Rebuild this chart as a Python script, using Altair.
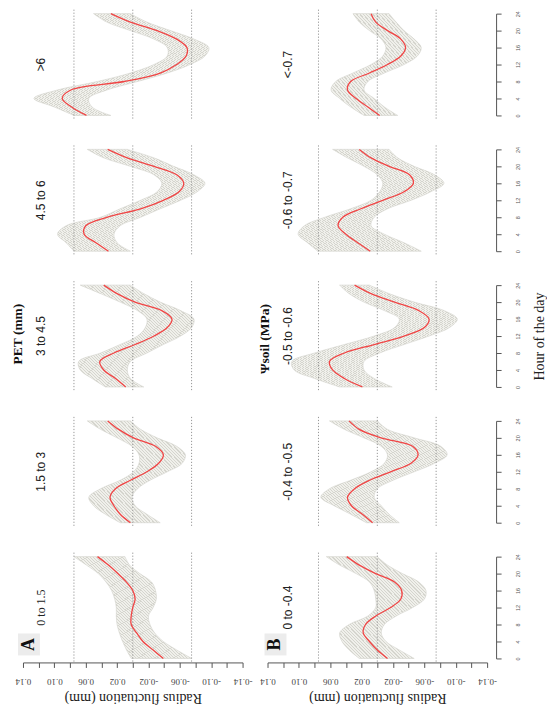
import altair as alt
import pandas as pd

# ---------------- data ----------------
hours = [0, 2, 4, 6, 8, 10, 12, 14, 16, 18, 20, 22, 24]

pet_classes = ["0 to 1.5", "1.5 to 3", "3 to 4.5", "4.5 to 6", ">6"]
psi_classes = ["0 to -0.4", "-0.4 to -0.5", "-0.5 to -0.6", "-0.6 to -0.7", "<-0.7"]

# A: PET classes
a1_mean = [-0.039, -0.026, -0.013, -0.005, 0.002, 0.002, 0.000, -0.003, 0.000, 0.008, 0.019, 0.031, 0.045]
a1_upper = [0.002, 0.008, 0.013, 0.017, 0.020, 0.021, 0.021, 0.023, 0.027, 0.034, 0.044, 0.059, 0.075]
a1_lower = [-0.075, -0.056, -0.039, -0.028, -0.022, -0.020, -0.026, -0.030, -0.029, -0.024, -0.009, 0.004, 0.010]

a2_mean = [0.003, 0.016, 0.024, 0.029, 0.022, 0.003, -0.018, -0.033, -0.039, -0.029, -0.001, 0.018, 0.032]
a2_upper = [0.016, 0.035, 0.050, 0.056, 0.041, 0.016, -0.001, -0.008, -0.008, 0.001, 0.020, 0.041, 0.058]
a2_lower = [-0.035, -0.018, -0.003, 0.001, -0.006, -0.022, -0.044, -0.063, -0.067, -0.056, -0.031, -0.010, 0.003]

a3_mean = [0.009, 0.022, 0.037, 0.042, 0.024, -0.003, -0.027, -0.044, -0.050, -0.037, -0.003, 0.020, 0.037]
a3_upper = [0.035, 0.052, 0.067, 0.069, 0.041, 0.016, -0.006, -0.016, -0.018, -0.006, 0.016, 0.041, 0.067]
a3_lower = [-0.014, 0.003, 0.007, 0.003, -0.018, -0.039, -0.061, -0.075, -0.078, -0.061, -0.035, -0.014, 0.003]

a4_mean = [0.031, 0.047, 0.062, 0.060, 0.033, -0.010, -0.039, -0.059, -0.065, -0.056, -0.027, 0.007, 0.032]
a4_upper = [0.075, 0.085, 0.096, 0.085, 0.041, 0.016, -0.010, -0.031, -0.037, -0.027, 0.003, 0.037, 0.058]
a4_lower = [0.003, 0.020, 0.024, 0.016, -0.010, -0.035, -0.061, -0.082, -0.092, -0.078, -0.052, -0.027, 0.007]

a5_mean = [0.059, 0.078, 0.090, 0.079, 0.011, -0.035, -0.056, -0.068, -0.069, -0.056, -0.031, 0.003, 0.028]
a5_upper = [0.075, 0.100, 0.126, 0.096, 0.045, 0.003, -0.027, -0.044, -0.044, -0.027, 0.003, 0.033, 0.050]
a5_lower = [0.028, 0.052, 0.056, 0.033, -0.006, -0.044, -0.073, -0.092, -0.097, -0.078, -0.048, -0.018, 0.003]

# B: soil water potential classes
b1_mean = [-0.013, 0.000, 0.010, 0.018, 0.015, 0.002, -0.017, -0.030, -0.031, -0.022, 0.002, 0.023, 0.039]
b1_upper = [0.023, 0.036, 0.045, 0.048, 0.036, 0.012, 0.002, 0.002, 0.004, 0.010, 0.027, 0.048, 0.065]
b1_lower = [-0.047, -0.028, -0.011, -0.005, -0.009, -0.024, -0.045, -0.060, -0.062, -0.053, -0.032, -0.013, 0.000]

b2_mean = [0.006, 0.019, 0.033, 0.038, 0.029, 0.010, -0.017, -0.043, -0.052, -0.045, -0.005, 0.023, 0.036]
b2_upper = [0.014, 0.034, 0.055, 0.072, 0.061, 0.034, 0.008, -0.009, -0.013, -0.005, 0.017, 0.042, 0.061]
b2_lower = [-0.028, -0.015, -0.005, 0.004, 0.000, -0.020, -0.047, -0.073, -0.089, -0.081, -0.047, -0.013, 0.000]

b3_mean = [0.019, 0.042, 0.057, 0.061, 0.042, 0.004, -0.034, -0.060, -0.066, -0.053, -0.022, 0.008, 0.029]
b3_upper = [0.048, 0.080, 0.106, 0.109, 0.080, 0.042, 0.004, -0.022, -0.028, -0.009, 0.017, 0.036, 0.048]
b3_lower = [-0.019, 0.004, 0.017, 0.017, -0.003, -0.034, -0.066, -0.092, -0.102, -0.085, -0.047, -0.015, 0.010]

b4_mean = [0.009, 0.025, 0.040, 0.050, 0.044, 0.021, -0.007, -0.034, -0.046, -0.041, -0.015, 0.008, 0.023]
b4_upper = [0.076, 0.089, 0.101, 0.093, 0.067, 0.034, 0.008, -0.003, -0.007, 0.000, 0.017, 0.038, 0.057]
b4_lower = [-0.056, -0.034, -0.009, 0.008, 0.004, -0.013, -0.043, -0.068, -0.085, -0.073, -0.047, -0.026, -0.015]

b5_mean = [-0.003, 0.012, 0.027, 0.038, 0.034, 0.010, -0.013, -0.030, -0.036, -0.030, -0.013, 0.002, 0.008]
b5_upper = [0.017, 0.034, 0.048, 0.059, 0.053, 0.031, 0.008, -0.007, -0.011, -0.005, 0.010, 0.023, 0.031]
b5_lower = [-0.026, -0.009, 0.004, 0.017, 0.012, -0.009, -0.034, -0.051, -0.056, -0.047, -0.034, -0.024, -0.015]

radius_ticks = [0.14, 0.12, 0.10, 0.08, 0.06, 0.04, 0.02, 0.0, -0.02, -0.04, -0.06,
                -0.08, -0.10, -0.12, -0.14]
hour_ticks = [0, 4, 8, 12, 16, 20, 24]
ref_lines = [0.075, 0.0, -0.075]

# ---------------- style ----------------
W, H = 220, 102
SERIF = "Liberation Serif"
SANS = "Liberation Sans"
RED = "#f04545"
LIGHT = "#f0f0eb"
DARK = "#d5d5ce"
AXIS_C = "#555555"

xscale = alt.Scale(domain=[0.14, -0.14], nice=False, zero=False)
yscale = alt.Scale(domain=[0, 24], nice=False, zero=False)

LABEL_EXPR = ("(round(abs(datum.value)*100) % 4 == 2) ? "
              "((datum.value < 0 ? '-' : '') + format(abs(datum.value), '.2f')) : ''")


def hatch(width_px):
    n = max(8, int(round(2 * width_px / 3.2)))
    stops = []
    for i in range(n):
        a = i / n
        b = (i + 0.62) / n
        c = (i + 1) / n
        stops += [
            alt.GradientStop(offset=a, color=LIGHT),
            alt.GradientStop(offset=b, color=LIGHT),
            alt.GradientStop(offset=b, color=DARK),
            alt.GradientStop(offset=c, color=DARK),
        ]
    return alt.LinearGradient(gradient="linear", stops=stops, x1=0, y1=1, x2=1, y2=0)


def panel(label, mean, upper, lower, col, row, extra=None):
    df = pd.DataFrame({"hour": hours, "mean": mean, "upper": upper, "lower": lower})
    if row == 0:
        xaxis = alt.Axis(values=radius_ticks, labelExpr=LABEL_EXPR, labelAngle=180,
                         labelBaseline="bottom", labelAlign="center",
                         labelFont=SERIF, labelFontSize=9, labelColor="#444",
                         tickColor=AXIS_C, domainColor=AXIS_C, tickSize=5, offset=4,
                         grid=False, labelOverlap=False, labelFlush=False, labelPadding=9,
                         title="Radius fluctuation (mm)", titleAngle=180,
                         titleBaseline="bottom", titleFont=SERIF,
                         titleFontSize=14, titleFontWeight="normal", titleColor="#222",
                         titlePadding=5)
    else:
        xaxis = None
    if col == 1:
        yaxis = alt.Axis(orient="right", values=hour_ticks, labelAngle=270,
                         labelBaseline="top", labelAlign="center", labelFont=SANS,
                         labelFontSize=5.5, labelColor="#555", tickColor=AXIS_C,
                         domainColor=AXIS_C, tickSize=5, offset=9, labelPadding=14,
                         grid=False, labelOverlap=False, labelFlush=False,
                         title=("Hour of the day" if row == 2 else None), titleAngle=270,
                         titleBaseline="top", titleFont=SERIF, titleFontSize=14,
                         titleFontWeight="normal", titleColor="#222", titlePadding=12)
    else:
        yaxis = None

    width_px = (max(upper) - min(lower)) * W / 0.28
    base = alt.Chart(df)
    band = base.mark_area(orient="horizontal", interpolate="catmull-rom",
                          fill=hatch(width_px), stroke="#d2d2cb", strokeWidth=0.6).encode(
        x=alt.X("upper:Q", scale=xscale, axis=xaxis),
        x2="lower:Q",
        y=alt.Y("hour:Q", scale=yscale, axis=yaxis),
    )
    line = base.mark_line(color=RED, strokeWidth=1.3, interpolate="catmull-rom").encode(
        x=alt.X("mean:Q", scale=xscale, axis=xaxis),
        y=alt.Y("hour:Q", scale=yscale, axis=yaxis),
        order="hour:Q",
    )
    rules = alt.Chart(pd.DataFrame({"v": ref_lines})).mark_rule(
        color="#8c8c8c", strokeDash=[1.2, 1.8], strokeWidth=0.9).encode(
        x=alt.X("v:Q", scale=xscale, axis=xaxis),
        y=alt.value(-4), y2=alt.value(H + 4),
    )
    font = SERIF if label == "0 to 1.5" else SANS
    title_x = 18 if col == 0 else 21
    ttl = alt.Chart(pd.DataFrame({"t": [label]})).mark_text(
        angle=270, font=font, fontSize=12, color="#222", align="center",
        baseline="middle").encode(x=alt.value(title_x), y=alt.value(H / 2), text="t:N")
    layers = [band, rules, line, ttl]
    if extra:
        layers += extra
    return alt.layer(*layers).properties(width=W, height=H)


def letter_box(letter, dx):
    box = alt.Chart(pd.DataFrame({"t": [letter]})).mark_rect(color="#ececec").encode(
        x=alt.value(-5 + dx), x2=alt.value(17 + dx), y=alt.value(77), y2=alt.value(99))
    txt = alt.Chart(pd.DataFrame({"t": [letter]})).mark_text(
        angle=270, font=SERIF, fontSize=18, fontWeight="bold", color="#111",
        align="center", baseline="middle").encode(
        x=alt.value(6 + dx), y=alt.value(88), text="t:N")
    return [box, txt]


def group_title(text, dx, dy):
    return [alt.Chart(pd.DataFrame({"t": [text]})).mark_text(
        angle=270, font=SERIF, fontSize=13.5, fontWeight="bold", color="#111",
        align="center", baseline="middle").encode(
        x=alt.value(dx), y=alt.value(H / 2 + dy), text="t:N")]


a_data = [(a1_mean, a1_upper, a1_lower), (a2_mean, a2_upper, a2_lower),
          (a3_mean, a3_upper, a3_lower), (a4_mean, a4_upper, a4_lower),
          (a5_mean, a5_upper, a5_lower)]
b_data = [(b1_mean, b1_upper, b1_lower), (b2_mean, b2_upper, b2_lower),
          (b3_mean, b3_upper, b3_lower), (b4_mean, b4_upper, b4_lower),
          (b5_mean, b5_upper, b5_lower)]

cells = []
for row in range(4, -1, -1):
    extra_a = []
    extra_b = []
    if row == 0:
        extra_a = letter_box("A", 0)
        extra_b = letter_box("B", 2)
    if row == 2:
        extra_a = group_title("PET (mm)", -5, -2)
        extra_b = group_title("\u03a8soil (MPa)", -3, 3)
    m, u, l = a_data[row]
    cells.append(panel(pet_classes[row], m, u, l, 0, row, extra_a))
    m, u, l = b_data[row]
    cells.append(panel(psi_classes[row], m, u, l, 1, row, extra_b))

chart = alt.concat(*cells, columns=2, spacing={"row": 34, "column": 25},
                   bounds="flush").properties(
    padding={"left": 2, "top": 0, "right": 0, "bottom": 0},
    background="white",
).configure_view(stroke=None)

chart.save("out.html", embed_options={"renderer": "svg", "actions": False})
